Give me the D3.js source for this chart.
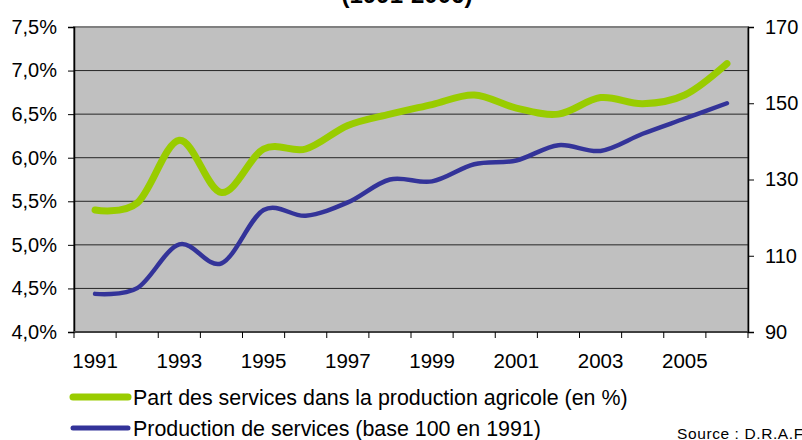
<!DOCTYPE html>
<html lang="fr">
<head>
    <meta charset="UTF-8">
    <script src="https://d3js.org/d3.v7.min.js"></script>
    <title>Services agricoles 1991-2006</title>
    <style>
        body { margin: 0; background: #fff; }
        svg { display: block; font-family: "Liberation Sans", Arial, sans-serif; }
    </style>
</head>
<body>
    <div id="chart"></div>
    <script>
        // data
        var years = ["1991", "1992", "1993", "1994", "1995", "1996", "1997", "1998",
                     "1999", "2000", "2001", "2002", "2003", "2004", "2005", "2006"];
        var partServices = [5.4, 5.48, 6.2, 5.6, 6.1, 6.1, 6.37, 6.5, 6.61, 6.72, 6.57, 6.5, 6.69, 6.62, 6.72, 7.08];
        var prodServices = [100, 101.5, 113, 108, 122, 120.5, 124, 130, 129.5, 134, 135, 139, 137.5, 142, 146, 150];
        var leftTicks = [4.0, 4.5, 5.0, 5.5, 6.0, 6.5, 7.0, 7.5];
        var rightTicks = [90, 110, 130, 150, 170];
        var yearLabels = ["1991", "1993", "1995", "1997", "1999", "2001", "2003", "2005"];
        var seriesNames = ["Part des services dans la production agricole (en %)",
                           "Production de services (base 100 en 1991)"];

        var width = 802, height = 440;
        var margin = {top: 27, right: 54, bottom: 108, left: 74};

        var svg = d3.select("#chart").append("svg")
            .attr("width", width)
            .attr("height", height);

        var x = d3.scaleBand()
            .domain(years)
            .range([margin.left, width - margin.right]);

        var yLeft = d3.scaleLinear()
            .domain([4.0, 7.5])
            .range([height - margin.bottom, margin.top]);

        var yRight = d3.scaleLinear()
            .domain([90, 170])
            .range([height - margin.bottom, margin.top]);

        var fmtPct = v => d3.format(".1f")(v).replace(".", ",") + "%";

        // title, mostly cut off at the top
        svg.append("text")
            .attr("x", 407)
            .attr("y", 3)
            .attr("text-anchor", "middle")
            .attr("font-weight", "bold")
            .attr("font-size", 24)
            .text("(1991-2006)");

        // plot area
        svg.append("rect")
            .attr("x", margin.left)
            .attr("y", margin.top)
            .attr("width", width - margin.left - margin.right)
            .attr("height", height - margin.top - margin.bottom)
            .attr("fill", "#c0c0c0")
            .attr("stroke", "#808080")
            .attr("stroke-width", 2);

        // gridlines
        svg.append("g")
            .selectAll("line")
            .data(leftTicks.slice(1, -1))
            .join("line")
            .attr("x1", margin.left)
            .attr("x2", width - margin.right)
            .attr("y1", d => yLeft(d))
            .attr("y2", d => yLeft(d))
            .attr("stroke", "#262626")
            .attr("stroke-width", 1);

        var styleAxis = g => g
            .call(g => g.selectAll(".domain").attr("stroke", "#000").attr("stroke-width", 1.5))
            .call(g => g.selectAll(".tick line").attr("stroke", "#000"))
            .call(g => g.selectAll("text").attr("fill", "#000").attr("font-size", 20)
                .attr("font-family", "Liberation Sans, Arial, sans-serif"));

        svg.append("g")
            .attr("transform", `translate(${margin.left},0)`)
            .call(d3.axisLeft(yLeft).tickValues(leftTicks).tickFormat(fmtPct).tickSizeOuter(0).tickSize(6).tickPadding(11))
            .call(styleAxis);

        svg.append("g")
            .attr("transform", `translate(${width - margin.right},0)`)
            .call(d3.axisRight(yRight).tickValues(rightTicks).tickSizeOuter(0).tickSize(6).tickPadding(11))
            .call(styleAxis);

        // category axis: ticks on band boundaries, labels every second year
        var xAxisG = svg.append("g")
            .attr("transform", `translate(0,${height - margin.bottom})`);

        xAxisG.append("line")
            .attr("x1", margin.left)
            .attr("x2", width - margin.right)
            .attr("stroke", "#404040")
            .attr("stroke-width", 2);

        xAxisG.selectAll(".xtick")
            .data(years.concat(["end"]))
            .join("line")
            .attr("class", "xtick")
            .attr("x1", (d, i) => margin.left + i * x.step())
            .attr("x2", (d, i) => margin.left + i * x.step())
            .attr("y1", 0)
            .attr("y2", 6)
            .attr("stroke", "#000");

        xAxisG.selectAll(".xlabel")
            .data(yearLabels)
            .join("text")
            .attr("class", "xlabel")
            .attr("x", d => x(d) + x.bandwidth() / 2)
            .attr("y", 36)
            .attr("text-anchor", "middle")
            .attr("font-size", 20.5)
            .text(d => d);

        // smoothed lines like the spreadsheet
        var curve = d3.curveCardinal.tension(0);

        var lineLeft = d3.line()
            .x((d, i) => x(years[i]) + x.bandwidth() / 2)
            .y(d => yLeft(d))
            .curve(curve);

        var lineRight = d3.line()
            .x((d, i) => x(years[i]) + x.bandwidth() / 2)
            .y(d => yRight(d))
            .curve(curve);

        svg.append("path")
            .datum(prodServices)
            .attr("d", lineRight)
            .attr("fill", "none")
            .attr("stroke", "#333399")
            .attr("stroke-width", 4.5)
            .attr("stroke-linecap", "round");

        svg.append("path")
            .datum(partServices)
            .attr("d", lineLeft)
            .attr("fill", "none")
            .attr("stroke", "#99cc00")
            .attr("stroke-width", 7)
            .attr("stroke-linecap", "round");

        // legend
        var legend = svg.append("g");
        var legendColors = ["#99cc00", "#333399"];
        var legendWidths = [7, 5];
        var legendY = [397, 428];

        legend.selectAll("line")
            .data(seriesNames)
            .join("line")
            .attr("x1", 73)
            .attr("x2", 128)
            .attr("y1", (d, i) => legendY[i])
            .attr("y2", (d, i) => legendY[i])
            .attr("stroke", (d, i) => legendColors[i])
            .attr("stroke-width", (d, i) => legendWidths[i])
            .attr("stroke-linecap", "round");

        legend.selectAll("text")
            .data(seriesNames)
            .join("text")
            .attr("x", 133)
            .attr("y", (d, i) => legendY[i] + 8)
            .attr("font-size", 21.4)
            .text(d => d);

        svg.append("text")
            .attr("x", 677)
            .attr("y", 439)
            .attr("font-size", 15.5)
            .attr("letter-spacing", 0.6)
            .text("Source : D.R.A.F");
    </script>
</body>
</html>
